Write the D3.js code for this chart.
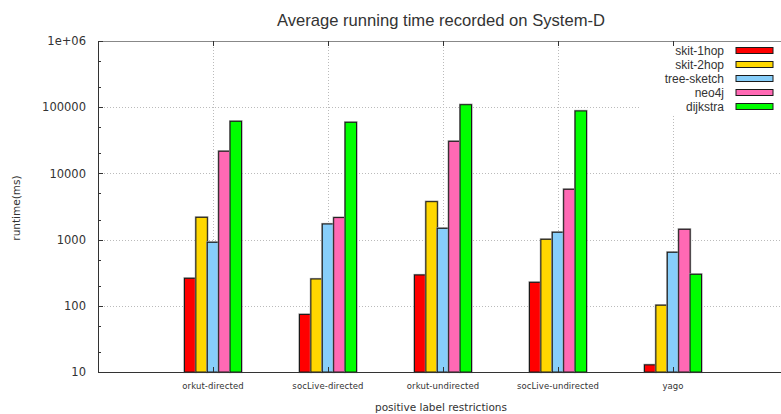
<!DOCTYPE html>
<html>
<head>
<meta charset="utf-8">
<script src="https://cdn.jsdelivr.net/npm/d3@7"></script>
<style>
  html, body { margin: 0; padding: 0; background: #fff; }
  svg text { font-family: "DejaVu Sans", sans-serif; fill: #333; }
</style>
</head>
<body>
<svg id="chart" width="781" height="414"></svg>
<script>
// ---- data ----
const categories = ["orkut-directed", "socLive-directed", "orkut-undirected", "socLive-undirected", "yago"];
const seriesNames = ["skit-1hop", "skit-2hop", "tree-sketch", "neo4j", "dijkstra"];
const seriesColors = ["#ff0000", "#ffd700", "#87cefa", "#ff69b4", "#00ff00"];
const skit1hop   = [260, 74, 292, 226, 12.8];
const skit2hop   = [2170, 254, 3740, 1010, 102];
const treeSketch = [910, 1720, 1480, 1290, 643];
const neo4j      = [21600, 2150, 30500, 5750, 1430];
const dijkstra   = [61200, 59100, 109000, 87700, 299];
const yTicks = [10, 100, 1000, 10000, 100000, 1000000];
const yTickLabels = ["10", "100", "1000", "10000", "100000", "1e+06"];

const series = [skit1hop, skit2hop, treeSketch, neo4j, dijkstra];

const svg = d3.select("#chart");
const m = { left: 98, top: 41, bottom: 372 };
const slot = 115;          // spacing between category centres
const x = d3.scaleLinear().domain([0, categories.length + 1]).range([m.left, m.left + slot * (categories.length + 1)]);
const y = d3.scaleLog().domain([10, 1e6]).range([m.bottom, m.top]);
const barW = 11.4;
const right = 781;

// grid
const grid = svg.append("g").attr("stroke", "#bbb").attr("stroke-dasharray", "1 2").attr("stroke-width", 1);
yTicks.slice(1, -1).forEach(v => {
  grid.append("line").attr("x1", m.left).attr("x2", right)
    .attr("y1", Math.round(y(v)) + 0.5).attr("y2", Math.round(y(v)) + 0.5);
});
categories.forEach((c, i) => {
  grid.append("line").attr("x1", Math.round(x(i + 1)) + 0.5).attr("x2", Math.round(x(i + 1)) + 0.5)
    .attr("y1", m.top).attr("y2", m.bottom);
});

// bars
const bars = svg.append("g");
categories.forEach((c, i) => {
  series.forEach((s, k) => {
    const bx = x(i + 1) - 2.5 * barW + k * barW;
    const by = y(s[i]);
    // soft grey halo like the reference rendering
    bars.append("rect").attr("x", bx).attr("y", by).attr("width", barW).attr("height", m.bottom - by)
      .attr("fill", "none").attr("stroke", "#999").attr("stroke-width", 2.2);
    bars.append("rect").attr("x", bx).attr("y", by).attr("width", barW).attr("height", m.bottom - by)
      .attr("fill", seriesColors[k]).attr("stroke", "#1a1a1a").attr("stroke-width", 1);
  });
});

// legend box (opaque, hides grid)
const lg = svg.append("g");
lg.append("rect").attr("x", 640).attr("y", m.top + 1).attr("width", right - 640).attr("height", 73).attr("fill", "#fff");
seriesNames.forEach((n, k) => {
  const ly = 50.5 + k * 14;
  lg.append("text").attr("x", 724).attr("y", ly).attr("dy", "0.35em").attr("text-anchor", "end")
    .attr("font-size", 12).style("font-family", "'Liberation Sans', Arial, sans-serif").text(n);
  lg.append("rect").attr("x", 736).attr("y", ly - 3).attr("width", 37).attr("height", 6)
    .attr("fill", seriesColors[k]).attr("stroke", "#1a1a1a").attr("stroke-width", 1);
});

// frame
const frame = svg.append("g").attr("stroke", "#333").attr("fill", "none");
frame.append("line").attr("x1", m.left + 0.5).attr("x2", m.left + 0.5).attr("y1", m.top).attr("y2", m.bottom);
frame.append("line").attr("x1", m.left).attr("x2", right).attr("y1", m.bottom + 0.5).attr("y2", m.bottom + 0.5);
frame.append("line").attr("x1", m.left).attr("x2", right).attr("y1", m.top + 0.5).attr("y2", m.top + 0.5).attr("stroke", "#888");

// y axis with major + minor (2, 5) ticks
const yAxis = d3.axisLeft(y).tickValues(yTicks).tickFormat((d, i) => yTickLabels[i]).tickSize(0).tickPadding(12);
const ya = svg.append("g").attr("transform", `translate(${m.left},0)`).call(yAxis);
ya.select(".domain").remove();
ya.selectAll("text").attr("font-size", 11.5).attr("fill", "#333").style("font-family", "'DejaVu Sans', sans-serif");
const minor = [];
yTicks.slice(0, -1).forEach(v => { minor.push(v * 2, v * 5); });
yTicks.forEach(v => {
  svg.append("line").attr("x1", m.left).attr("x2", m.left + 5)
    .attr("y1", Math.round(y(v)) + 0.5).attr("y2", Math.round(y(v)) + 0.5).attr("stroke", "#333");
});
minor.forEach(v => {
  svg.append("line").attr("x1", m.left).attr("x2", m.left + 3)
    .attr("y1", Math.round(y(v)) + 0.5).attr("y2", Math.round(y(v)) + 0.5).attr("stroke", "#333");
});

// x ticks on top and bottom
categories.forEach((c, i) => {
  const tx = Math.round(x(i + 1)) + 0.5;
  svg.append("line").attr("x1", tx).attr("x2", tx).attr("y1", m.top).attr("y2", m.top + 5).attr("stroke", "#333");
  svg.append("line").attr("x1", tx).attr("x2", tx).attr("y1", m.bottom).attr("y2", m.bottom - 5).attr("stroke", "#333");
  svg.append("text").attr("x", x(i + 1)).attr("y", 386).attr("dy", "0.35em").attr("text-anchor", "middle")
    .attr("font-size", 8.5).attr("letter-spacing", 0.1).text(c);
});

// titles
svg.append("text").attr("x", 441).attr("y", 26).attr("text-anchor", "middle")
  .attr("font-size", 16.6).style("font-family", "'Liberation Sans', Arial, sans-serif").attr("fill", "#111")
  .text("Average running time recorded on System-D");
svg.append("text").attr("x", 441).attr("y", 407).attr("dy", "0.35em").attr("text-anchor", "middle")
  .attr("font-size", 10.5).text("positive label restrictions");
svg.append("text").attr("transform", "translate(16,208) rotate(-90)").attr("dy", "0.35em")
  .attr("text-anchor", "middle").attr("font-size", 10.5).text("runtime(ms)");
</script>
</body>
</html>
